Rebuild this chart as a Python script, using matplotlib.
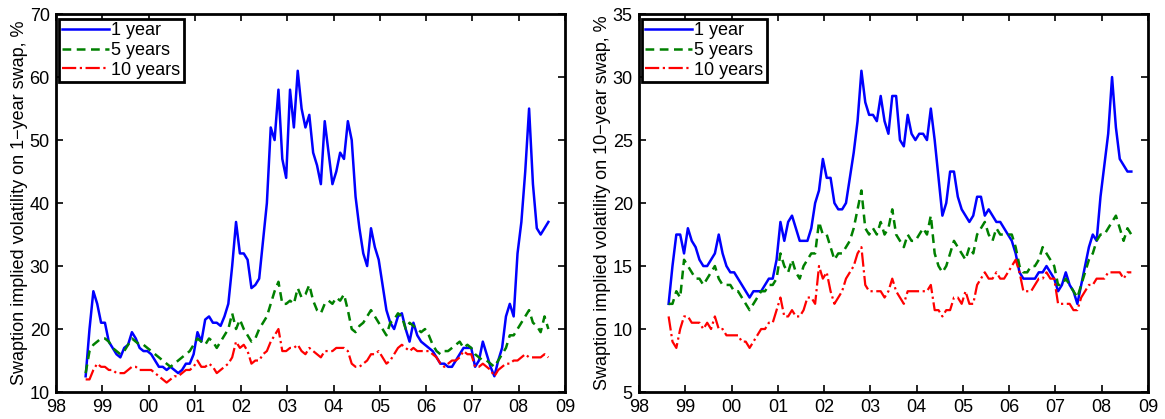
import numpy as np
import matplotlib
matplotlib.use('Agg')
import matplotlib.pyplot as plt

plt.rcParams['font.family'] = ['Liberation Sans', 'DejaVu Sans']

# monthly readings, Aug 1998 .. Aug 2008 (one row per calendar year)
swap1_1y = [12.5, 20, 26, 24, 21,
            21, 18, 17, 16, 15.5, 17, 17.5, 19.5, 18.5, 17, 16.5, 16.5,
            16, 15, 14, 14, 13.5, 14, 13.5, 13, 13.5, 14.5, 14.5, 16,
            19.5, 18, 21.5, 22, 21, 21, 20.5, 22, 24, 30, 37, 32,
            32, 31, 26.5, 27, 28, 34, 40, 52, 50, 58, 47, 44,
            58, 52, 61, 55, 52, 54, 48, 46, 43, 53, 48, 43,
            45, 48, 47, 53, 50, 41, 36, 32, 30, 36, 33, 31,
            27, 23, 21, 20, 22, 22.5, 20, 18, 21, 19, 18, 17.5,
            17, 16.5, 15.5, 14.5, 14.5, 14, 14, 15, 16, 17, 17, 17,
            14, 15, 18, 16, 14, 12.5, 15, 17, 22, 24, 22, 32,
            37, 45, 55, 43, 36, 35, 36, 37]
swap1_5y = [13, 16.5, 17.5, 18, 18.5,
            18.5, 18, 17, 16.5, 16, 16.5, 17.5, 18.5, 18, 17.5, 17.5, 17,
            16.5, 16, 15.5, 15, 14.5, 14, 14.5, 15, 15.5, 16, 16.5, 17.5,
            18.5, 18, 17.5, 18.5, 18, 17, 18, 19, 20, 22.5, 20, 21.5,
            20, 19, 18, 18.5, 20, 21, 22, 24, 26, 27.5, 24, 24,
            24.5, 24, 26.5, 25, 25.5, 27, 24.5, 23, 22.5, 24, 24.5, 24,
            25, 24.5, 25.5, 23, 20, 19.5, 20.5, 21, 22, 23, 22, 21,
            20, 19, 21, 21.5, 22.5, 22, 20, 21, 20.5, 20, 19.5, 20,
            19, 17.5, 16.5, 16, 16.5, 16.5, 17, 17.5, 18, 17, 17.5, 17,
            16, 15.5, 15, 15, 14.5, 14, 15, 16, 17, 19, 19, 20,
            21, 22, 23, 21, 20.5, 19.5, 22, 20]
swap1_10y = [12, 12, 13.5, 14.5, 14,
             14, 13.5, 13.5, 13, 13, 13, 13.5, 14, 14, 13.5, 13.5, 13.5,
             13.5, 13, 12.5, 12, 11.5, 12, 12.5, 12.5, 13, 13.5, 13.5, 14,
             15, 14, 14, 14.5, 14, 13, 13.5, 14, 14.5, 15.5, 18, 17,
             17.5, 16.5, 14.5, 15, 15, 16, 16.5, 18, 19, 20, 16.5, 16.5,
             17, 17, 17.5, 16.5, 16, 17, 16.5, 16, 15.5, 16.5, 16.5, 16.5,
             17, 17, 17, 16.5, 14.5, 14, 14, 14.5, 15, 16, 16, 16.5,
             15.5, 14.5, 15, 16, 17, 17.5, 17, 16.5, 17, 16.5, 16.5, 16.5,
             16.5, 16, 15.5, 14.5, 14, 14.5, 15, 15, 15.5, 16.5, 16, 16,
             14, 14, 14.5, 14, 13.5, 12.5, 13.5, 14, 14.5, 14.5, 15, 15,
             15.5, 16, 15.5, 15.5, 15.5, 15.5, 16, 15.5]

swap10_1y = [12, 15, 17.5, 17.5, 16,
             18, 17, 16.5, 15.5, 15, 15, 15.5, 16, 17.5, 16, 15, 14.5,
             14.5, 14, 13.5, 13, 12.5, 13, 13, 13, 13.5, 14, 14, 15.5,
             18.5, 17, 18.5, 19, 18, 17, 17, 17, 18, 20, 21, 23.5,
             22, 22, 20, 19.5, 19.5, 20, 22, 24, 26.5, 30.5, 28, 27,
             27, 26.5, 28.5, 26.5, 25.5, 28.5, 28.5, 25, 24.5, 27, 25.5, 25,
             25.5, 25.5, 25, 27.5, 25, 22, 19, 20, 22.5, 22.5, 20.5, 19.5,
             19, 18.5, 19, 20.5, 20.5, 19, 19.5, 19, 18.5, 18.5, 18, 17.5,
             17, 16, 14.5, 14, 14, 14, 14, 14.5, 14.5, 15, 14.5, 14,
             13, 13.5, 14.5, 13.5, 13, 12, 13.5, 15, 16.5, 17.5, 17, 20.5,
             23, 25.5, 30, 26, 23.5, 23, 22.5, 22.5]
swap10_5y = [12, 12, 13, 12.5, 15.5,
             15, 14.5, 14, 14, 13.5, 14, 14.5, 15, 14, 13.5, 13.5, 13.5,
             13, 13, 12.5, 12, 11.5, 12, 12.5, 13, 13, 13.5, 13.5, 14,
             16, 15, 14.5, 15.5, 14.5, 14, 15, 15.5, 16, 16, 18.5, 17.5,
             17.5, 16.5, 15.5, 16, 16, 16.5, 17, 18, 19.5, 21, 18, 17.5,
             18, 17.5, 18.5, 17.5, 18, 19.5, 17.5, 17, 16.5, 17.5, 17, 17,
             17.5, 18, 17.5, 19, 16, 15, 14.5, 15, 16, 17, 16.5, 16,
             15.5, 16.5, 16, 17.5, 18, 18.5, 17.5, 17, 18, 17.5, 17.5, 17.5,
             17.5, 16.5, 15, 14.5, 14.5, 15, 15, 15.5, 16.5, 16, 15.5, 15,
             13.5, 13.5, 14, 13.5, 13, 12.5, 13.5, 14.5, 15.5, 16, 17, 17.5,
             17.5, 18, 18.5, 19, 18, 17, 18, 17.5]
swap10_10y = [11, 9, 8.5, 10, 11,
              11, 10.5, 10.5, 10.5, 10, 10.5, 10, 11, 10, 10, 9.5, 9.5,
              9.5, 9.5, 9, 9, 8.5, 9, 9.5, 10, 10, 10.5, 10.5, 11.5,
              12.5, 11, 11, 11.5, 11, 11, 11.5, 12.5, 12.5, 12, 15, 14,
              14.5, 13, 12, 12.5, 13, 14, 14.5, 15, 16, 16.5, 13.5, 13,
              13, 13, 13, 12.5, 13, 14, 13, 12.5, 12, 13, 13, 13,
              13, 13, 13, 13.5, 11.5, 11.5, 11, 11.5, 11.5, 12.5, 12.5, 12,
              13, 12, 12, 13.5, 14, 14.5, 14, 14, 14.5, 14, 14, 14.5,
              15, 15.5, 14.5, 13, 13, 13, 13.5, 14, 14, 14.5, 14, 14,
              12, 12, 12, 12, 11.5, 11.5, 12.5, 13, 13.5, 13.5, 14, 14,
              14, 14.5, 14.5, 14.5, 14.5, 14, 14.5, 14.5]

labels = ['1 year', '5 years', '10 years']
year_ticks = list(range(1998, 2010))
year_labels = ['%02d' % (y % 100) for y in year_ticks]

t = 1998.64 + np.arange(len(swap1_1y)) / 12.0

fig = plt.figure(figsize=(11.65, 4.19), dpi=100)
ax1 = fig.add_axes([0.0481, 0.0644, 0.4369, 0.902])
ax2 = fig.add_axes([0.5485, 0.0644, 0.4369, 0.902])


def draw(ax, s1, s5, s10, ylim, ystep, ylabel):
    ax.plot(t, s1, '-', color=(0, 0, 1), lw=1.8, label=labels[0])
    ax.plot(t, s5, '--', color=(0, 0.5, 0), lw=1.8, dashes=(3.5, 2.2), label=labels[1])
    ax.plot(t, s10, '-.', color=(1, 0, 0), lw=1.6, label=labels[2])
    ax.set_xlim(1998, 2009)
    ax.set_ylim(*ylim)
    ax.set_xticks(year_ticks)
    ax.set_xticklabels(year_labels)
    ax.set_yticks(np.arange(ylim[0], ylim[1] + 0.1, ystep))
    ax.tick_params(direction='in', top=True, right=True, length=5, width=1.2,
                   labelsize=13)
    ax.tick_params(axis='x', pad=5)
    ax.tick_params(axis='y', pad=4.5)
    for sp in ax.spines.values():
        sp.set_linewidth(2)
    ax.set_ylabel(ylabel, fontsize=13, labelpad=1)
    leg = ax.legend(loc='upper left', bbox_to_anchor=(0.005, 0.988), borderaxespad=0,
                    fancybox=False, framealpha=1, edgecolor='black', fontsize=13,
                    handlelength=2.6, handletextpad=0.1, borderpad=0.2, labelspacing=0.15)
    leg.get_frame().set_linewidth(2)


draw(ax1, swap1_1y, swap1_5y, swap1_10y, (10, 70), 10,
     'Swaption implied volatility on 1\u2212year swap, %')
draw(ax2, swap10_1y, swap10_5y, swap10_10y, (5, 35), 5,
     'Swaption implied volatility on 10\u2212year swap, %')

fig.savefig('out.png', dpi=100)
